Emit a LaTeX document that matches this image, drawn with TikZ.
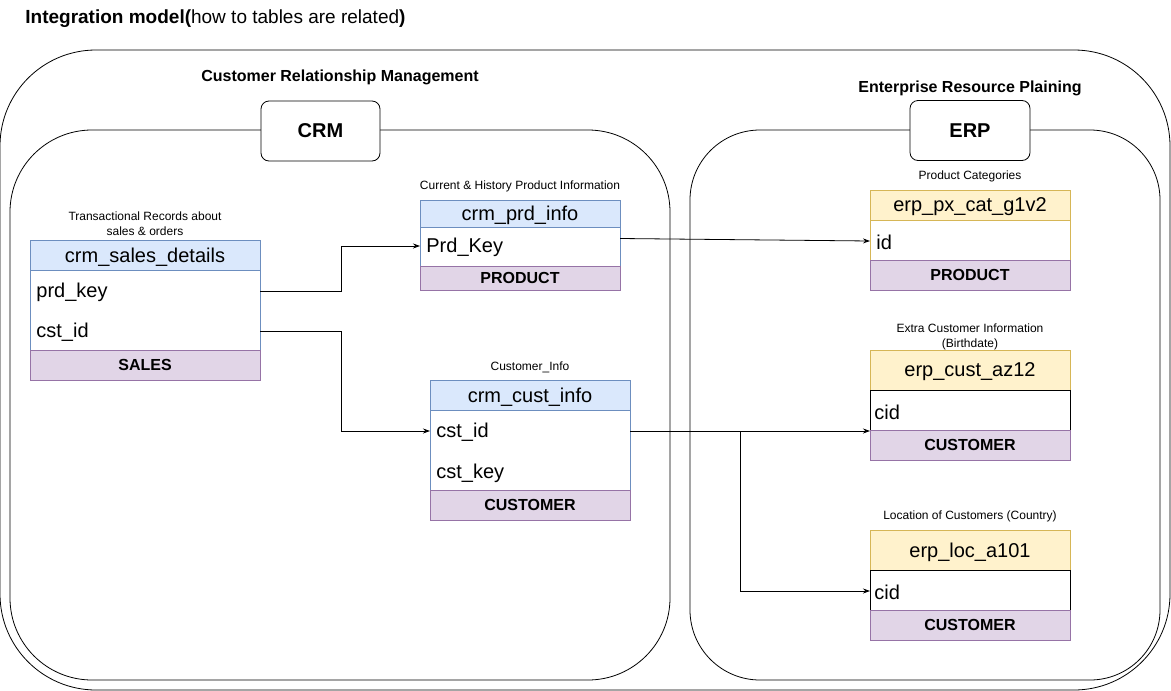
\documentclass[tikz,border=0pt]{standalone}
\usepackage{fontspec}
\setmainfont{Liberation Sans}
\usetikzlibrary{positioning,arrows.meta}

\definecolor{bluefill}{HTML}{DAE8FC}
\definecolor{bluedraw}{HTML}{6C8EBF}
\definecolor{purplefill}{HTML}{E1D5E7}
\definecolor{purpledraw}{HTML}{9673A6}
\definecolor{yellowfill}{HTML}{FFF2CC}
\definecolor{yellowdraw}{HTML}{D6B656}

\tikzset{
  tablehead/.style={draw, inner sep=0pt, outer sep=0pt, anchor=north west, text depth=0pt,
    font=\fontsize{20}{24}\selectfont},
  crmhead/.style={tablehead, fill=bluefill, draw=bluedraw},
  erphead/.style={tablehead, fill=yellowfill, draw=yellowdraw},
  tablebody/.style={draw, fill=white, inner sep=0pt, outer sep=0pt},
  tablefoot/.style={draw=purpledraw, fill=purplefill, inner sep=0pt, outer sep=0pt, text depth=0pt,
    font=\bfseries\fontsize{16}{19}\selectfont},
  fieldtxt/.style={anchor=west, inner sep=0pt, font=\fontsize{20}{24}\selectfont},
  caption/.style={align=center, inner sep=0pt, font=\fontsize{12}{15}\selectfont},
  areatitle/.style={inner sep=0pt, font=\bfseries\fontsize{16}{19}\selectfont},
  systembox/.style={draw, fill=white, rounded corners=8pt, minimum width=119pt, text depth=0pt,
    minimum height=60pt, inner sep=0pt, font=\bfseries\fontsize{20}{24}\selectfont},
  link/.style={-{Stealth[length=7pt,width=5pt]}, line width=0.8pt}
}

\begin{document}
\begin{tikzpicture}[x=1pt, y=-1pt, line width=0.8pt]
    \useasboundingbox (0,0) rectangle (1171,691);

    % title
    \node[anchor=west, inner sep=0pt, font=\fontsize{19}{23}\selectfont] (title) at (25,19)
        {\textbf{Integration model(}how to tables are related\textbf{)}};

    % areas
    \draw[rounded corners=96pt] (0,50) rectangle (1170,690);
    \draw[rounded corners=82pt] (10,130) rectangle (670,680);
    \draw[rounded corners=70pt] (690,130) rectangle (1160,680);

    \node[areatitle] (crmtitle) at (340,77) {Customer Relationship Management};
    \node[areatitle] (erptitle) at (970,88) {Enterprise Resource Plaining};
    \node[systembox] (crm) at (320.5,131) {CRM};
    \node[systembox, minimum width=120pt] (erp) at (970,130.5) {ERP};

    % crm_sales_details
    \node[caption] (salesCap) at (145,224) {Transactional Records about\\sales \& orders};
    \node[crmhead, minimum width=230pt, minimum height=30pt] (salesH) at (30,240) {crm\_sales\_details};
    \node[tablebody, draw=bluedraw, minimum width=230pt, minimum height=80pt, below=0pt of salesH] (salesB) {};
    \node[tablefoot, minimum width=230pt, minimum height=30pt, below=0pt of salesB] (salesF) {SALES};
    \node[fieldtxt] (salesPrd) at (36,292) {prd\_key};
    \node[fieldtxt] (salesCst) at (36,332) {cst\_id};

    % crm_prd_info
    \node[caption] (prdCap) at (520,186) {Current \& History Product Information};
    \node[crmhead, minimum width=200pt, minimum height=27pt] (prdH) at (420,200) {crm\_prd\_info};
    \node[tablebody, draw=bluedraw, minimum width=200pt, minimum height=39pt, below=0pt of prdH] (prdB) {};
    \node[tablefoot, minimum width=200pt, minimum height=24pt, below=0pt of prdB] (prdF) {PRODUCT};
    \node[fieldtxt] (prdKey) at (426,247) {Prd\_Key};

    % crm_cust_info
    \node[caption] (custCap) at (530,367) {Customer\_Info};
    \node[crmhead, minimum width=200pt, minimum height=30pt] (custH) at (430,380) {crm\_cust\_info};
    \node[tablebody, draw=bluedraw, minimum width=200pt, minimum height=80pt, below=0pt of custH] (custB) {};
    \node[tablefoot, minimum width=200pt, minimum height=30pt, below=0pt of custB] (custF) {CUSTOMER};
    \node[fieldtxt] (custId) at (436,432) {cst\_id};
    \node[fieldtxt] (custKey) at (436,473) {cst\_key};

    % erp_px_cat_g1v2
    \node[caption] (catCap) at (970,176) {Product Categories};
    \node[erphead, minimum width=200pt, minimum height=30pt] (catH) at (870,190) {erp\_px\_cat\_g1v2};
    \node[tablebody, draw=yellowdraw, minimum width=200pt, minimum height=40pt, below=0pt of catH] (catB) {};
    \node[tablefoot, minimum width=200pt, minimum height=30pt, below=0pt of catB] (catF) {PRODUCT};
    \node[fieldtxt] (catId) at (876,242) {id};

    % erp_cust_az12
    \node[caption] (azCap) at (970,337) {Extra Customer Information\\(Birthdate)};
    \node[erphead, minimum width=200pt, minimum height=40pt] (azH) at (870,350) {erp\_cust\_az12};
    \node[tablebody, minimum width=200pt, minimum height=40pt, below=0pt of azH] (azB) {};
    \node[tablefoot, minimum width=200pt, minimum height=30pt, below=0pt of azB] (azF) {CUSTOMER};
    \node[fieldtxt] (azCid) at (874,412) {cid};

    % erp_loc_a101
    \node[caption] (locCap) at (970,516) {Location of Customers (Country)};
    \node[erphead, minimum width=200pt, minimum height=40pt] (locH) at (870,530) {erp\_loc\_a101};
    \node[tablebody, minimum width=200pt, minimum height=40pt, below=0pt of locH] (locB) {};
    \node[tablefoot, minimum width=200pt, minimum height=30pt, below=0pt of locB] (locF) {CUSTOMER};
    \node[fieldtxt] (locCid) at (874,592) {cid};

    % relations
    \coordinate (split) at (740,431);
    \draw[link] ([yshift=1pt]salesPrd -| salesB.east) -- ++(81,0) |- ([yshift=1pt]prdKey -| prdB.west);
    \draw[link] ([yshift=1pt]salesCst -| salesB.east) -- ++(81,0) |- ([yshift=1pt]custId -| custB.west);
    \draw[link] ([yshift=8pt]prdB.east) -- ([yshift=1pt]catId -| catB.west);
    \draw[link] (split -| custB.east) -- (split -| azB.west);
    \draw[link] (split) |- ([yshift=1pt]locCid -| locB.west);
\end{tikzpicture}
\end{document}
